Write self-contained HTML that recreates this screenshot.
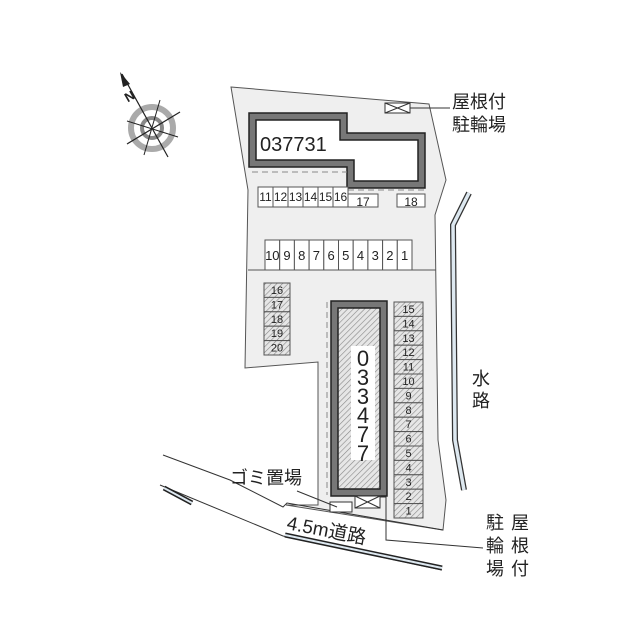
<!DOCTYPE html>
<html><head><meta charset="utf-8"><style>body{margin:0;background:#fff}svg{display:block}text{font-family:"Liberation Sans","Noto Sans CJK JP",sans-serif;fill:#222}</style></head><body>
<svg width="640" height="640" viewBox="0 0 640 640" xmlns="http://www.w3.org/2000/svg">
<defs>
<pattern id="h" width="4" height="4" patternUnits="userSpaceOnUse" patternTransform="rotate(45)"><rect width="4" height="4" fill="#e6e6e6"/><line x1="0" y1="0" x2="0" y2="4" stroke="#888" stroke-width="1.2"/></pattern>
</defs>
<polygon points="231,87 429,104 446,180 435,215 438,440 446,500 443,530 286,505 318,505 318,362 245,368 248,190" fill="#efefef" stroke="#555" stroke-width="1"/>
<line x1="248" y1="270" x2="436" y2="270" stroke="#555" stroke-width="1"/>
<polyline points="163,455 230,480 283,507 287,503 443,530" fill="none" stroke="#333" stroke-width="1"/>
<polyline points="160,485 283,536 442,570" fill="none" stroke="#333" stroke-width="1"/>
<line x1="164" y1="488" x2="192" y2="503" stroke="#222" stroke-width="5"/><line x1="164" y1="488" x2="192" y2="503" stroke="#dde8f0" stroke-width="2"/>
<line x1="285" y1="535" x2="442" y2="568" stroke="#222" stroke-width="5"/><line x1="285" y1="535" x2="442" y2="568" stroke="#dde8f0" stroke-width="2"/>
<polyline points="469,193 453,225 455,440 464,490" fill="none" stroke="#333" stroke-width="6"/>
<polyline points="469,193 453,225 455,440 464,490" fill="none" stroke="#dde8f0" stroke-width="3.5"/>
<polygon points="249,113 347,113 347,133 425,133 425,188 347,188 347,167 249,167" fill="#777" stroke="#222" stroke-width="1.5"/>
<polygon points="256,120 340,120 340,140 418,140 418,181 354,181 354,160 256,160" fill="#fff" stroke="#222" stroke-width="1.5"/>
<text x="260" y="151" font-size="20">037731</text>
<line x1="252" y1="172" x2="347" y2="172" stroke="#888" stroke-dasharray="6,4"/>
<line x1="348" y1="190" x2="425" y2="190" stroke="#888" stroke-dasharray="6,4"/>
<g fill="#fff" stroke="#555" stroke-width="1">
<rect x="258" y="187" width="15" height="20"/><rect x="273" y="187" width="15" height="20"/><rect x="288" y="187" width="15" height="20"/><rect x="303" y="187" width="15" height="20"/><rect x="318" y="187" width="15" height="20"/><rect x="333" y="187" width="15" height="20"/>
<rect x="348" y="194" width="30" height="13"/><rect x="397" y="194" width="28" height="13"/>
</g>
<g font-size="12" text-anchor="middle"><text x="265.5" y="201">11</text><text x="280.5" y="201">12</text><text x="295.5" y="201">13</text><text x="310.5" y="201">14</text><text x="325.5" y="201">15</text><text x="340.5" y="201">16</text><text x="363" y="206">17</text><text x="411" y="206">18</text></g>
<g fill="#fff" stroke="#555" stroke-width="1">
<rect x="265" y="240" width="14.7" height="30"/><rect x="279.7" y="240" width="14.7" height="30"/><rect x="294.4" y="240" width="14.7" height="30"/><rect x="309.1" y="240" width="14.7" height="30"/><rect x="323.8" y="240" width="14.7" height="30"/><rect x="338.5" y="240" width="14.7" height="30"/><rect x="353.2" y="240" width="14.7" height="30"/><rect x="367.9" y="240" width="14.7" height="30"/><rect x="382.6" y="240" width="14.7" height="30"/><rect x="397.3" y="240" width="14.7" height="30"/>
</g>
<g font-size="13" text-anchor="middle"><text x="272.3" y="260">10</text><text x="287" y="260">9</text><text x="301.7" y="260">8</text><text x="316.4" y="260">7</text><text x="331.1" y="260">6</text><text x="345.8" y="260">5</text><text x="360.5" y="260">4</text><text x="375.2" y="260">3</text><text x="389.9" y="260">2</text><text x="404.6" y="260">1</text></g>
<g fill="url(#h)" stroke="#555" stroke-width="1">
<rect x="264" y="283" width="26" height="14.4"/><rect x="264" y="297.4" width="26" height="14.4"/><rect x="264" y="311.8" width="26" height="14.4"/><rect x="264" y="326.2" width="26" height="14.4"/><rect x="264" y="340.6" width="26" height="14.4"/>
</g>
<g font-size="11" text-anchor="middle" fill="#444"><text x="277" y="294">16</text><text x="277" y="308.4">17</text><text x="277" y="322.8">18</text><text x="277" y="337.2">19</text><text x="277" y="351.6">20</text></g>
<g fill="url(#h)" stroke="#555" stroke-width="1">
<rect x="394" y="302" width="29" height="14.4"/><rect x="394" y="316.4" width="29" height="14.4"/><rect x="394" y="330.8" width="29" height="14.4"/><rect x="394" y="345.2" width="29" height="14.4"/><rect x="394" y="359.6" width="29" height="14.4"/><rect x="394" y="374" width="29" height="14.4"/><rect x="394" y="388.4" width="29" height="14.4"/><rect x="394" y="402.8" width="29" height="14.4"/><rect x="394" y="417.2" width="29" height="14.4"/><rect x="394" y="431.6" width="29" height="14.4"/><rect x="394" y="446" width="29" height="14.4"/><rect x="394" y="460.4" width="29" height="14.4"/><rect x="394" y="474.8" width="29" height="14.4"/><rect x="394" y="489.2" width="29" height="14.4"/><rect x="394" y="503.6" width="29" height="14.4"/>
</g>
<g font-size="11" text-anchor="middle" fill="#444"><text x="408.5" y="313">15</text><text x="408.5" y="327.4">14</text><text x="408.5" y="341.8">13</text><text x="408.5" y="356.2">12</text><text x="408.5" y="370.6">11</text><text x="408.5" y="385">10</text><text x="408.5" y="399.4">9</text><text x="408.5" y="413.8">8</text><text x="408.5" y="428.2">7</text><text x="408.5" y="442.6">6</text><text x="408.5" y="457">5</text><text x="408.5" y="471.4">4</text><text x="408.5" y="485.8">3</text><text x="408.5" y="500.2">2</text><text x="408.5" y="514.6">1</text></g>
<line x1="327" y1="302" x2="327" y2="495" stroke="#888" stroke-dasharray="6,4"/>
<rect x="331" y="301" width="56" height="195" fill="#777" stroke="#222" stroke-width="1.5"/>
<rect x="338" y="308" width="42" height="181" fill="url(#h)" stroke="#222" stroke-width="1.5"/>
<rect x="351" y="346" width="24" height="114" fill="#fff"/>
<g font-size="22" text-anchor="middle"><text x="363" y="366">0</text><text x="363" y="385">3</text><text x="363" y="404">3</text><text x="363" y="423">4</text><text x="363" y="442">7</text><text x="363" y="461">7</text></g>
<rect x="385" y="103" width="25" height="10" fill="#fff" stroke="#333"/><path d="M385,103 L410,113 M385,113 L410,103" stroke="#333"/>
<line x1="410" y1="108" x2="450" y2="108" stroke="#333"/>
<rect x="355" y="496" width="25" height="12" fill="#fff" stroke="#333"/><path d="M355,496 L380,508 M355,508 L380,496" stroke="#333"/>
<polyline points="380,497 386,497 386,540 483,548" fill="none" stroke="#333"/>
<rect x="330" y="502" width="22" height="10" fill="#fff" stroke="#333"/>
<line x1="297" y1="491" x2="337" y2="507" stroke="#333"/>
<g font-size="18"><text x="452" y="108">屋根付</text><text x="452" y="131">駐輪場</text>
<text x="230" y="484">ゴミ置場</text>
<text x="472" y="385">水</text><text x="472" y="407">路</text>
<text x="486" y="529">駐</text><text x="486" y="552">輪</text><text x="486" y="575">場</text>
<text x="511" y="529">屋</text><text x="511" y="552">根</text><text x="511" y="575">付</text>
<text x="286" y="529" transform="rotate(11 286 529)" font-size="19">4.5m道路</text></g>
<g>
<circle cx="152" cy="128" r="21" fill="none" stroke="#aaa" stroke-width="6"/>
<circle cx="152" cy="128" r="10" fill="none" stroke="#888" stroke-width="4"/>
<line x1="122" y1="74" x2="168" y2="157" stroke="#222" stroke-width="1.2"/>
<line x1="127" y1="144" x2="180" y2="112" stroke="#222" stroke-width="1.2"/>
<line x1="160" y1="100" x2="144" y2="155" stroke="#222" stroke-width="1"/>
<line x1="127" y1="121" x2="178" y2="137" stroke="#222" stroke-width="1"/>
<polygon points="120,72 130,84 123,87" fill="#222"/>
<text x="125" y="100" font-size="13" font-weight="bold" transform="rotate(-30 131 96)">N</text>
</g>
</svg>
</body></html>
